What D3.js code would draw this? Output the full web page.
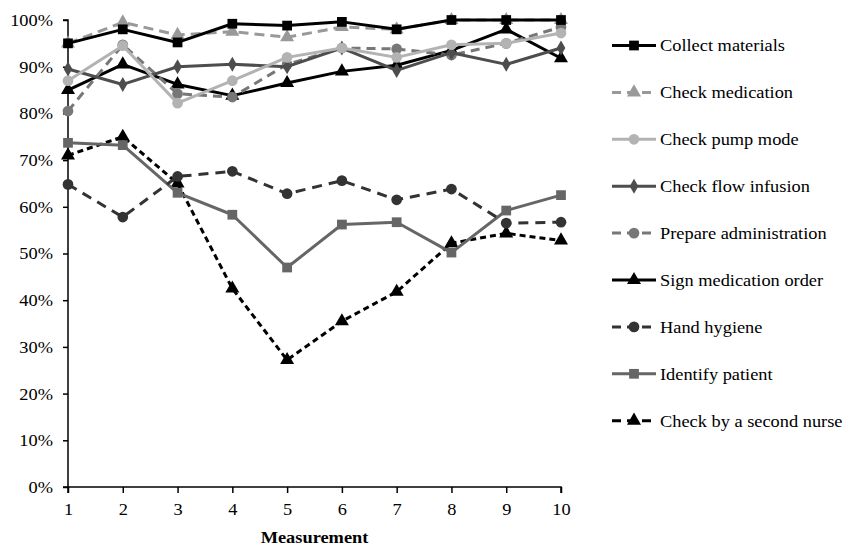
<!DOCTYPE html>
<html>
<head>
<meta charset="utf-8">
<script src="https://cdn.jsdelivr.net/npm/d3@7"></script>
<style>
  body { margin: 0; background: #fff; }
  svg { display: block; font-family: "Liberation Serif", "Times New Roman", serif; }
</style>
</head>
<body>
<div class="chart"></div>
<script>
// measurement rounds
var measurements = [1, 2, 3, 4, 5, 6, 7, 8, 9, 10];
var yTicks = [0, 0.1, 0.2, 0.3, 0.4, 0.5, 0.6, 0.7, 0.8, 0.9, 1.0];

// compliance per step (fraction)
var collectMaterials     = [0.950, 0.980, 0.952, 0.992, 0.988, 0.996, 0.980, 1.000, 1.000, 1.000];
var checkMedication      = [0.950, 0.995, 0.968, 0.975, 0.963, 0.985, 0.980, 1.000, 1.000, 1.000];
var checkPumpMode        = [0.870, 0.945, 0.822, 0.870, 0.920, 0.940, 0.920, 0.947, 0.950, 0.972];
var checkFlowInfusion    = [0.895, 0.862, 0.900, 0.905, 0.900, 0.940, 0.892, 0.930, 0.905, 0.940];
var prepareAdministration= [0.805, 0.947, 0.842, 0.835, 0.905, 0.940, 0.938, 0.925, 0.950, 0.985];
var signMedicationOrder  = [0.850, 0.905, 0.862, 0.838, 0.865, 0.890, 0.903, 0.935, 0.980, 0.918];
var handHygiene          = [0.648, 0.578, 0.665, 0.676, 0.628, 0.656, 0.615, 0.638, 0.565, 0.567];
var identifyPatient      = [0.737, 0.732, 0.630, 0.583, 0.470, 0.562, 0.567, 0.502, 0.592, 0.625];
var checkSecondNurse     = [0.710, 0.750, 0.650, 0.425, 0.272, 0.355, 0.418, 0.522, 0.543, 0.528];

var seriesNames = ["Collect materials", "Check medication", "Check pump mode", "Check flow infusion",
    "Prepare administration", "Sign medication order", "Hand hygiene", "Identify patient", "Check by a second nurse"];
var seriesValues = [collectMaterials, checkMedication, checkPumpMode, checkFlowInfusion,
    prepareAdministration, signMedicationOrder, handHygiene, identifyPatient, checkSecondNurse];

// styling per series: colour, dash, marker
var seriesStyle = [
    { color: "#000000", dash: null,    marker: "square" },
    { color: "#999999", dash: "10,6",  marker: "triangle" },
    { color: "#b3b3b3", dash: null,    marker: "circle" },
    { color: "#4d4d4d", dash: null,    marker: "diamond" },
    { color: "#777777", dash: "9,6",   marker: "circle" },
    { color: "#000000", dash: null,    marker: "triangle" },
    { color: "#333333", dash: "10,7",  marker: "circle" },
    { color: "#666666", dash: null,    marker: "square" },
    { color: "#000000", dash: "6,4",   marker: "triangle" }
];

var width = 845, height = 547;
var margin = { left: 68, right: 284, top: 20, bottom: 60 };
var fontSize = "17px", stretch = 1.08; // the original type is a bit wider than Liberation Serif

var svg = d3.select(".chart").append("svg").attr("width", width).attr("height", height);

var x = d3.scaleLinear().domain([1, 10]).range([margin.left, width - margin.right]);
var y = d3.scaleLinear().domain([0, 1]).range([height - margin.bottom, margin.top]);

var yAxis = d3.axisLeft(y).tickValues(yTicks).tickSize(5).tickFormat(d3.format(".0%"));
var xAxis = d3.axisBottom(x).tickValues(measurements).tickSize(6).tickFormat(d3.format("d"));

var gy = svg.append("g").attr("transform", "translate(" + margin.left + ",0)").call(yAxis);
var gx = svg.append("g").attr("transform", "translate(0," + (height - margin.bottom) + ")").call(xAxis);
[gx, gy].forEach(function(g) {
    g.select(".domain").attr("stroke", "#000").attr("stroke-width", 1.5);
    g.selectAll(".tick line").attr("stroke", "#000").attr("stroke-width", 1.5);
    g.selectAll(".tick text").attr("fill", "#000").style("font-size", fontSize)
        .style("font-family", "'Liberation Serif', 'Times New Roman', serif");
});
gy.selectAll(".tick text").attr("x", 0).attr("transform", "translate(-15,0) scale(" + stretch + ",1)");
gx.selectAll(".tick text").attr("y", 0).attr("dy", 0).attr("transform", "translate(0,28) scale(" + stretch + ",1)");
gx.select(".domain").attr("d", "M" + x(1) + ",6V0H" + x(10) + "V6");
gy.select(".domain").attr("d", "M-5," + y(1) + "H0V" + y(0) + "H-5");

svg.append("text").attr("transform", "translate(" + ((x(1) + x(10)) / 2) + ",543) scale(" + stretch + ",1)")
    .attr("text-anchor", "middle")
    .style("font-size", fontSize).style("font-weight", "bold").text("Measurement");

function markerPath(type) {
    if (type == "square") return d3.symbol().type(d3.symbolSquare).size(95)();
    if (type == "triangle") return d3.symbol().type(d3.symbolTriangle).size(85)();
    if (type == "diamond") return d3.symbol().type(d3.symbolDiamond).size(65)();
    return d3.symbol().type(d3.symbolCircle).size(90)();
}

var line = d3.line().x(function(d, i) { return x(measurements[i]); }).y(function(d) { return y(d); });

// draw series in reverse order so the first legend entries are on top
for (var s = seriesValues.length - 1; s >= 0; s--) {
    var st = seriesStyle[s];
    var g = svg.append("g").attr("class", "series");
    g.append("path").datum(seriesValues[s]).attr("d", line).attr("fill", "none")
        .attr("stroke", st.color).attr("stroke-width", 3)
        .attr("stroke-dasharray", st.dash).attr("stroke-linejoin", "round");
    g.selectAll("path.mk").data(seriesValues[s]).enter().append("path").attr("class", "mk")
        .attr("d", markerPath(st.marker))
        .attr("transform", function(d, i) { return "translate(" + x(measurements[i]) + "," + y(d) + ")"; })
        .attr("fill", st.color);
}

// legend
var legend = svg.append("g").attr("transform", "translate(612,45.5)");
for (var i = 0; i < seriesNames.length; i++) {
    var st = seriesStyle[i];
    var item = legend.append("g").attr("transform", "translate(0," + (i * 46.9) + ")");
    item.append("line").attr("x1", 0).attr("x2", 44).attr("y1", 0).attr("y2", 0)
        .attr("stroke", st.color).attr("stroke-width", 3)
        .attr("stroke-dasharray", st.dash ? "9,6" : null);
    item.append("path").attr("d", markerPath(st.marker)).attr("transform", "translate(22,0)").attr("fill", st.color);
    item.append("text").attr("transform", "translate(48,0) scale(" + stretch + ",1)").attr("dy", "0.35em")
        .style("font-size", fontSize).text(seriesNames[i]);
}
</script>
</body>
</html>
